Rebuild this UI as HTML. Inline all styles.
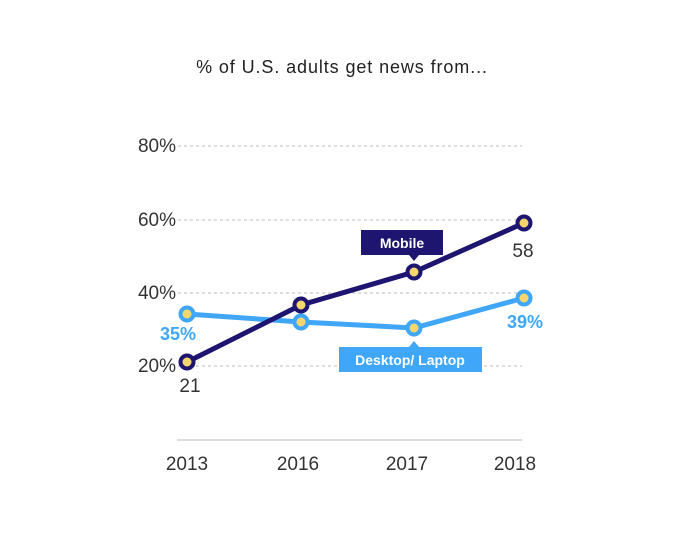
<!DOCTYPE html>
<html><head><style>body{margin:0;background:#fff}svg{display:block}text{font-family:"Liberation Sans",sans-serif}</style></head>
<body>
<svg width="683" height="544" viewBox="0 0 683 544">
<text x="342" y="73" text-anchor="middle" font-size="18" letter-spacing="0.9" fill="#222">% of U.S. adults get news from...</text>
<g stroke="#bbb" stroke-dasharray="3,3" stroke-width="1">
<line x1="178" y1="146" x2="522" y2="146"/><line x1="178" y1="220" x2="522" y2="220"/>
<line x1="178" y1="293" x2="522" y2="293"/><line x1="178" y1="366" x2="522" y2="366"/>
</g>
<line x1="177" y1="440" x2="522" y2="440" stroke="#bbb"/>
<g font-size="19" fill="#333" text-anchor="end">
<text x="176" y="152">80%</text><text x="176" y="226">60%</text><text x="176" y="299">40%</text><text x="176" y="372">20%</text>
</g>
<g font-size="19" fill="#333" text-anchor="middle">
<text x="187" y="470">2013</text><text x="298" y="470">2016</text><text x="407" y="470">2017</text><text x="515" y="470">2018</text>
</g>
<polyline points="187,314 301,322 414,328 524,298" fill="none" stroke="#40a6f7" stroke-width="5"/>
<polyline points="187,362 301,305 414,272 524,223" fill="none" stroke="#1d1570" stroke-width="5"/>
<g fill="#f5d76e" stroke="#40a6f7" stroke-width="4">
<circle cx="187" cy="314" r="6.5"/><circle cx="301" cy="322" r="6.5"/><circle cx="414" cy="328" r="6.5"/><circle cx="524" cy="298" r="6.5"/></g>
<g fill="#f5d76e" stroke="#1d1570" stroke-width="4">
<circle cx="187" cy="362" r="6.5"/><circle cx="301" cy="305" r="6.5"/><circle cx="414" cy="272" r="6.5"/><circle cx="524" cy="223" r="6.5"/></g>
<rect x="361" y="230" width="82" height="25" fill="#1d1570"/>
<polygon points="409,255 419,255 414,261" fill="#1d1570"/>
<text x="402" y="248" text-anchor="middle" font-size="14" font-weight="bold" fill="#fff">Mobile</text>
<rect x="339" y="347" width="143" height="25" fill="#40a6f7"/>
<polygon points="409,347 419,347 414,341" fill="#40a6f7"/>
<text x="410" y="365" text-anchor="middle" font-size="14" font-weight="bold" fill="#fff">Desktop/ Laptop</text>
<text x="523" y="257" text-anchor="middle" font-size="19" fill="#333">58</text>
<text x="190" y="392" text-anchor="middle" font-size="19" fill="#333">21</text>
<text x="178" y="340" text-anchor="middle" font-size="18" font-weight="bold" fill="#40a6f7">35%</text>
<text x="525" y="328" text-anchor="middle" font-size="18" font-weight="bold" fill="#40a6f7">39%</text>
</svg>
</body></html>
